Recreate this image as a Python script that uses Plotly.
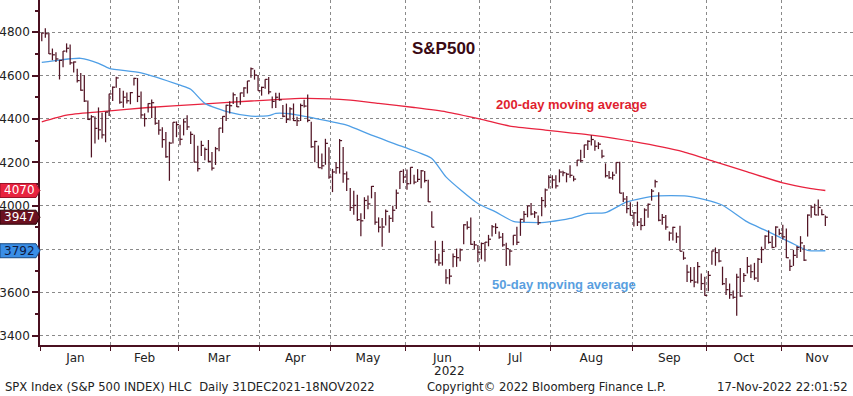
import plotly.graph_objects as go

# ---------------- data ----------------
dates = [
    # Jan
    "2022-01-03","2022-01-04","2022-01-05","2022-01-06","2022-01-07","2022-01-10","2022-01-11","2022-01-12","2022-01-13","2022-01-14",
    "2022-01-18","2022-01-19","2022-01-20","2022-01-21","2022-01-24","2022-01-25","2022-01-26","2022-01-27","2022-01-28","2022-01-31",
    # Feb
    "2022-02-01","2022-02-02","2022-02-03","2022-02-04","2022-02-07","2022-02-08","2022-02-09","2022-02-10","2022-02-11","2022-02-14",
    "2022-02-15","2022-02-16","2022-02-17","2022-02-18","2022-02-22","2022-02-23","2022-02-24","2022-02-25","2022-02-28",
    # Mar
    "2022-03-01","2022-03-02","2022-03-03","2022-03-04","2022-03-07","2022-03-08","2022-03-09","2022-03-10","2022-03-11","2022-03-14",
    "2022-03-15","2022-03-16","2022-03-17","2022-03-18","2022-03-21","2022-03-22","2022-03-23","2022-03-24","2022-03-25","2022-03-28",
    "2022-03-29","2022-03-30","2022-03-31",
    # Apr
    "2022-04-01","2022-04-04","2022-04-05","2022-04-06","2022-04-07","2022-04-08","2022-04-11","2022-04-12","2022-04-13","2022-04-14",
    "2022-04-18","2022-04-19","2022-04-20","2022-04-21","2022-04-22","2022-04-25","2022-04-26","2022-04-27","2022-04-28","2022-04-29",
    # May
    "2022-05-02","2022-05-03","2022-05-04","2022-05-05","2022-05-06","2022-05-09","2022-05-10","2022-05-11","2022-05-12","2022-05-13",
    "2022-05-16","2022-05-17","2022-05-18","2022-05-19","2022-05-20","2022-05-23","2022-05-24","2022-05-25","2022-05-26","2022-05-27",
    "2022-05-31",
    # Jun
    "2022-06-01","2022-06-02","2022-06-03","2022-06-06","2022-06-07","2022-06-08","2022-06-09","2022-06-10","2022-06-13","2022-06-14",
    "2022-06-15","2022-06-16","2022-06-17","2022-06-21","2022-06-22","2022-06-23","2022-06-24","2022-06-27","2022-06-28","2022-06-29",
    "2022-06-30",
    # Jul
    "2022-07-01","2022-07-05","2022-07-06","2022-07-07","2022-07-08","2022-07-11","2022-07-12","2022-07-13","2022-07-14","2022-07-15",
    "2022-07-18","2022-07-19","2022-07-20","2022-07-21","2022-07-22","2022-07-25","2022-07-26","2022-07-27","2022-07-28","2022-07-29",
    # Aug
    "2022-08-01","2022-08-02","2022-08-03","2022-08-04","2022-08-05","2022-08-08","2022-08-09","2022-08-10","2022-08-11","2022-08-12",
    "2022-08-15","2022-08-16","2022-08-17","2022-08-18","2022-08-19","2022-08-22","2022-08-23","2022-08-24","2022-08-25","2022-08-26",
    "2022-08-29","2022-08-30","2022-08-31",
    # Sep
    "2022-09-01","2022-09-02","2022-09-06","2022-09-07","2022-09-08","2022-09-09","2022-09-12","2022-09-13","2022-09-14","2022-09-15",
    "2022-09-16","2022-09-19","2022-09-20","2022-09-21","2022-09-22","2022-09-23","2022-09-26","2022-09-27","2022-09-28","2022-09-29",
    "2022-09-30",
    # Oct
    "2022-10-03","2022-10-04","2022-10-05","2022-10-06","2022-10-07","2022-10-10","2022-10-11","2022-10-12","2022-10-13","2022-10-14",
    "2022-10-17","2022-10-18","2022-10-19","2022-10-20","2022-10-21","2022-10-24","2022-10-25","2022-10-26","2022-10-27","2022-10-28",
    "2022-10-31",
    # Nov
    "2022-11-01","2022-11-02","2022-11-03","2022-11-04","2022-11-07","2022-11-08","2022-11-09","2022-11-10","2022-11-11","2022-11-14",
    "2022-11-15","2022-11-16","2022-11-17",
]

highs = [
    4796.6, 4818.6, 4797.7, 4725.0, 4708.0, 4673.0, 4714.1, 4748.8, 4744.1, 4665.1, 4632.2, 4611.6, 4602.1, 4485.3, 4417.4, 4411.0, 4453.2, 4428.7, 4432.7, 4516.9,
    4550.0, 4595.3, 4542.9, 4529.9, 4521.9, 4524.5, 4590.0, 4588.9, 4527.3, 4426.2, 4472.8, 4489.6, 4456.0, 4394.8, 4362.1, 4339.5, 4294.7, 4385.3, 4388.8,
    4373.5, 4401.5, 4416.8, 4342.1, 4327.0, 4276.9, 4299.4, 4268.3, 4303.0, 4247.6, 4271.1, 4358.0, 4412.5, 4465.4, 4481.8, 4522.0, 4501.1, 4520.6, 4546.0, 4575.7, 4637.3, 4627.0, 4603.1,
    4549.0, 4583.5, 4593.5, 4503.9, 4521.2, 4521.2, 4464.4, 4471.0, 4453.9, 4471.5, 4410.3, 4471.0, 4488.3, 4512.9, 4386.9, 4299.0, 4278.1, 4240.7, 4308.5, 4269.7,
    4169.8, 4200.1, 4307.7, 4270.4, 4157.7, 4081.4, 4068.8, 4050.0, 3964.8, 4038.9, 4047.0, 4090.7, 4062.9, 3945.9, 3943.1, 3981.9, 3955.7, 3999.3, 4075.1, 4158.5, 4168.3,
    4166.5, 4177.5, 4142.7, 4168.8, 4164.9, 4160.1, 4119.1, 3974.4, 3838.2, 3778.2, 3837.6, 3706.0, 3707.7, 3779.7, 3801.8, 3802.6, 3913.7, 3927.7, 3945.9, 3836.5, 3818.0,
    3829.8, 3832.2, 3865.2, 3910.6, 3918.5, 3880.9, 3873.4, 3829.4, 3796.4, 3863.6, 3902.4, 3939.8, 3975.3, 3999.3, 4012.4, 3975.3, 3954.0, 4039.6, 4078.9, 4140.2,
    4140.5, 4140.5, 4167.7, 4161.3, 4151.6, 4186.6, 4138.0, 4211.0, 4257.9, 4280.5, 4301.8, 4325.3, 4302.2, 4292.9, 4258.0, 4195.1, 4159.8, 4156.6, 4200.5, 4203.0, 4062.0, 4044.0, 4015.4,
    3970.2, 4018.4, 3942.6, 3987.9, 4010.5, 4076.8, 4119.3, 4062.0, 3961.9, 3957.0, 3880.5, 3902.5, 3876.0, 3907.1, 3788.0, 3727.0, 3716.4, 3717.5, 3740.0, 3687.0, 3671.4,
    3698.4, 3791.9, 3806.9, 3797.9, 3718.5, 3666.0, 3640.7, 3608.3, 3685.4, 3712.0, 3689.7, 3762.8, 3728.6, 3736.0, 3757.9, 3810.7, 3862.9, 3886.2, 3859.9, 3905.4, 3893.7,
    3911.8, 3894.4, 3751.0, 3796.3, 3813.9, 3859.4, 3818.4, 3959.6, 4001.5, 4008.4, 4028.8, 3983.4, 3954.3,
]

lows = [
    4758.2, 4774.3, 4699.4, 4671.3, 4662.7, 4582.2, 4638.3, 4706.7, 4650.3, 4614.8, 4568.7, 4530.2, 4478.0, 4395.4, 4222.6, 4287.1, 4304.8, 4309.5, 4292.5, 4414.0,
    4483.5, 4544.3, 4470.4, 4451.5, 4471.5, 4467.9, 4554.9, 4477.9, 4401.4, 4364.8, 4429.4, 4404.1, 4373.7, 4327.2, 4267.1, 4221.5, 4114.7, 4287.0, 4315.9,
    4279.0, 4324.2, 4348.6, 4284.9, 4199.2, 4157.9, 4229.0, 4209.0, 4200.4, 4161.7, 4187.9, 4251.6, 4335.7, 4390.6, 4425.6, 4468.6, 4455.8, 4465.4, 4501.1, 4517.7, 4589.8, 4581.5, 4530.4,
    4507.6, 4539.2, 4514.2, 4450.0, 4450.3, 4483.7, 4408.4, 4381.3, 4392.7, 4390.6, 4367.6, 4390.6, 4452.6, 4384.5, 4267.6, 4200.8, 4175.0, 4167.5, 4188.6, 4124.3,
    4062.5, 4147.1, 4148.0, 4106.2, 4067.7, 3975.5, 3958.1, 3928.8, 3858.9, 3937.9, 3983.0, 4033.9, 3911.9, 3876.7, 3810.3, 3909.0, 3875.1, 3925.0, 3984.6, 4077.4, 4104.1,
    4073.9, 4099.0, 4098.7, 4109.2, 4080.2, 4107.2, 4017.2, 3900.2, 3734.3, 3722.3, 3723.3, 3639.8, 3636.9, 3715.3, 3717.7, 3743.5, 3821.8, 3889.7, 3820.1, 3799.0, 3738.7,
    3752.1, 3742.1, 3812.3, 3858.2, 3869.6, 3847.2, 3810.0, 3721.6, 3723.3, 3817.7, 3818.6, 3860.7, 3924.5, 3946.3, 3955.8, 3943.4, 3911.0, 3951.4, 3992.0, 4079.2,
    4079.8, 4079.1, 4107.3, 4135.4, 4107.6, 4128.9, 4112.1, 4181.3, 4201.4, 4219.8, 4256.9, 4277.8, 4253.1, 4261.0, 4218.7, 4129.9, 4124.3, 4119.7, 4147.6, 4057.7, 4017.4, 3965.2, 3954.5,
    3903.7, 3906.2, 3886.8, 3906.0, 3944.4, 4022.9, 4083.6, 3928.3, 3912.2, 3888.6, 3838.6, 3838.7, 3828.0, 3789.8, 3750.0, 3647.5, 3644.7, 3623.3, 3640.6, 3610.4, 3584.1,
    3604.9, 3727.4, 3722.7, 3739.2, 3633.5, 3588.1, 3570.1, 3570.1, 3491.6, 3579.1, 3647.4, 3686.5, 3666.5, 3656.4, 3647.4, 3735.2, 3799.4, 3824.9, 3803.8, 3808.3, 3863.7,
    3843.8, 3758.7, 3698.2, 3722.0, 3759.0, 3786.3, 3744.2, 3857.3, 3944.1, 3956.4, 3953.2, 3955.2, 3906.5,
]

closes = [
    4796.6, 4793.5, 4700.6, 4696.1, 4677.0, 4670.3, 4713.1, 4726.4, 4659.0, 4662.9, 4577.1, 4532.8, 4482.7, 4397.9, 4410.1, 4356.5, 4349.9, 4326.5, 4431.9, 4515.6,
    4546.5, 4589.4, 4477.4, 4500.5, 4483.9, 4521.5, 4587.2, 4504.1, 4418.6, 4401.7, 4471.1, 4475.0, 4380.3, 4348.9, 4304.8, 4225.5, 4288.7, 4384.7, 4373.9,
    4306.3, 4386.5, 4363.5, 4328.9, 4201.1, 4170.7, 4277.9, 4259.5, 4204.3, 4173.1, 4262.5, 4357.9, 4411.7, 4463.1, 4461.2, 4511.6, 4456.2, 4520.2, 4543.1, 4575.5, 4631.6, 4602.5, 4530.4,
    4545.9, 4582.6, 4525.1, 4481.2, 4500.2, 4488.3, 4412.5, 4397.5, 4446.6, 4392.6, 4391.7, 4462.2, 4459.5, 4393.7, 4271.8, 4296.1, 4175.2, 4184.0, 4287.5, 4131.9,
    4155.4, 4175.5, 4300.2, 4146.9, 4123.3, 3991.2, 4001.1, 3935.2, 3930.1, 4023.9, 4008.0, 4088.9, 3923.7, 3900.8, 3901.4, 3973.8, 3941.5, 3978.7, 4057.8, 4158.2, 4132.2,
    4101.2, 4176.8, 4108.5, 4121.4, 4160.7, 4115.8, 4017.8, 3900.9, 3749.6, 3735.5, 3790.0, 3666.8, 3674.8, 3764.8, 3759.9, 3795.7, 3911.7, 3900.1, 3821.6, 3818.8, 3785.4,
    3825.3, 3831.4, 3845.1, 3902.6, 3899.4, 3854.4, 3818.8, 3801.8, 3790.4, 3863.2, 3830.9, 3936.7, 3959.9, 3999.0, 3961.6, 3966.8, 3921.1, 4023.6, 4072.4, 4130.3,
    4118.6, 4091.2, 4155.2, 4151.9, 4145.2, 4140.1, 4122.5, 4210.2, 4207.3, 4280.2, 4297.1, 4305.2, 4274.0, 4283.7, 4228.5, 4138.0, 4128.7, 4140.8, 4199.1, 4057.7, 4030.6, 3986.2, 3955.0,
    3966.9, 3924.3, 3908.2, 3979.9, 4006.2, 4067.4, 4110.4, 3932.7, 3946.0, 3901.4, 3873.3, 3899.9, 3855.9, 3789.9, 3758.0, 3693.2, 3655.0, 3647.3, 3719.0, 3640.5, 3585.6,
    3678.4, 3790.9, 3783.3, 3744.5, 3639.7, 3612.4, 3588.8, 3577.0, 3669.9, 3583.1, 3678.0, 3720.0, 3695.2, 3665.8, 3752.8, 3797.3, 3859.1, 3830.6, 3807.3, 3901.1, 3872.0,
    3856.1, 3759.7, 3719.9, 3770.6, 3806.8, 3828.1, 3748.6, 3956.4, 3992.9, 3957.3, 3991.7, 3958.8, 3946.6,
]

# moving averages at sample dates
ma200_dates = ["2022-01-03","2022-01-12","2022-01-26","2022-02-15","2022-03-08","2022-03-29","2022-04-19","2022-04-29",
               "2022-05-09","2022-05-19","2022-06-03","2022-06-16","2022-07-01","2022-07-14","2022-07-28","2022-08-08",
               "2022-08-16","2022-09-01","2022-09-22","2022-10-05","2022-10-18","2022-11-01","2022-11-11","2022-11-17"]
ma200_values = [4387, 4418, 4433, 4453, 4467, 4483, 4495, 4493,
                4487, 4472, 4453, 4433, 4398, 4367, 4349, 4336,
                4325, 4295, 4248, 4202, 4156, 4105, 4079, 4070]

ma50_dates = ["2022-01-03","2022-01-10","2022-01-19","2022-01-26","2022-01-31","2022-02-11","2022-03-01","2022-03-04",
              "2022-03-10","2022-03-21","2022-03-29","2022-04-05","2022-04-07","2022-04-13","2022-04-19","2022-04-25",
              "2022-05-06","2022-05-17","2022-05-31","2022-06-10","2022-06-16","2022-06-30","2022-07-08","2022-07-15",
              "2022-07-27","2022-07-29","2022-08-08","2022-08-15","2022-08-22","2022-08-30","2022-09-12","2022-09-23",
              "2022-09-30","2022-10-07","2022-10-18","2022-10-25","2022-11-03","2022-11-10","2022-11-17"]
ma50_values = [4661, 4672, 4680, 4657, 4634, 4613, 4556, 4537,
               4472, 4430, 4413, 4415, 4426, 4424, 4415, 4403,
               4372, 4325, 4271, 4218, 4133, 4010, 3971, 3928,
               3922, 3925, 3941, 3964, 3968, 4017, 4044, 4044,
               4028, 4002, 3925, 3887, 3832, 3794, 3792]

month_names = ["Jan", "Feb", "Mar", "Apr", "May", "Jun", "Jul", "Aug", "Sep", "Oct", "Nov"]
year_label = "2022"
y_ticks = [3400, 3600, 3800, 4000, 4200, 4400, 4600, 4800]
y_ticktext = ["3400", "3600", "", "4000", "4200", "4400", "4600", "4800"]  # 3800 hidden behind the 50-day tag

# ---------------- styling ----------------
BAR = "#521525"
RED = "#e8233f"
BLUE = "#4f9fe6"
AXIS = "#4a1020"
GRID = "#8a8a8a"
TXT = "#222222"
FONT = "DejaVu Sans"

X_END = 229.3
Y_RANGE = [3357, 4949]

# trading-day positions
pos = {d: i + 0.5 for i, d in enumerate(dates)}
xs = [pos[d] for d in dates]

bx, by, cx, cy = [], [], [], []
for x, h, l, c in zip(xs, highs, lows, closes):
    bx += [x, x, None]
    by += [l, h, None]
    cx += [x, x + 0.7, None]
    cy += [c, c, None]

# month boundaries and centres
bounds = [i for i in range(len(dates)) if i == 0 or dates[i][5:7] != dates[i - 1][5:7]]
ends = bounds[1:] + [X_END]
centres = [(a + b) / 2 for a, b in zip(bounds, ends)]

fig = go.Figure()
fig.add_trace(go.Scatter(x=[pos[d] for d in ma200_dates], y=ma200_values, mode="lines",
                         line=dict(color=RED, width=1.3, shape="spline", smoothing=0.6), hoverinfo="skip"))
fig.add_trace(go.Scatter(x=[pos[d] for d in ma50_dates], y=ma50_values, mode="lines",
                         line=dict(color=BLUE, width=1.3, shape="spline", smoothing=0.6), hoverinfo="skip"))
fig.add_trace(go.Scatter(x=bx, y=by, mode="lines", line=dict(color=BAR, width=1.25), hoverinfo="skip"))
fig.add_trace(go.Scatter(x=cx, y=cy, mode="lines", line=dict(color=BAR, width=1.25), hoverinfo="skip"))

fig.update_layout(
    width=853, height=396,
    margin=dict(l=40, r=0, t=0, b=51),
    paper_bgcolor="white", plot_bgcolor="white",
    showlegend=False,
    font=dict(family=FONT, size=12, color=TXT),
    xaxis=dict(
        range=[0, X_END], tickmode="array", tickvals=centres, ticktext=month_names,
        ticks="outside", ticklen=1, tickcolor="rgba(0,0,0,0)", showgrid=False, zeroline=False,
        showline=True, linecolor=AXIS, linewidth=1.5, automargin=False,
        tickfont=dict(family=FONT, size=12, color=TXT),
        minor=dict(tickmode="array", tickvals=bounds, ticks="outside", ticklen=4, tickcolor=AXIS,
                   tickwidth=1, showgrid=True, gridcolor=GRID, griddash="dot", gridwidth=1),
    ),
    yaxis=dict(
        range=Y_RANGE, tickmode="array", tickvals=y_ticks, ticktext=y_ticktext,
        ticks="outside", ticklen=6, tickwidth=2, tickcolor=AXIS,
        showgrid=True, gridcolor=GRID, griddash="dot", gridwidth=1, zeroline=False,
        showline=True, linecolor=AXIS, linewidth=1.5, automargin=False,
        tickfont=dict(family=FONT, size=12, color=TXT),
        minor=dict(dtick=100, tick0=3300, ticks="outside", ticklen=3, tickcolor=AXIS, showgrid=False),
    ),
)

# year under the June label, left-aligned with it
fig.add_annotation(x=centres[5], y=-(371 - 345) / 345, yref="paper", xshift=-10, text=year_label,
                   showarrow=False, xanchor="left", yanchor="middle",
                   font=dict(family=FONT, size=12, color=TXT))

# last-value tags on the left axis
tags = [
    (ma200_values[-1], RED, "#9a1028", "white"),
    (closes[-1], "#6a1020", "#2a0508", "white"),
    (ma50_values[-1], "#3a8ee6", "#1a4a80", "#101a40"),
]
for val, col, edge, tcol in tags:
    fig.add_shape(type="path", xref="paper", yref="y", xsizemode="pixel", ysizemode="pixel",
                  xanchor=0, yanchor=val,
                  path="M -40,-7 L -4,-7 L 0,0 L -4,7 L -40,7 Z",
                  fillcolor=col, line=dict(width=1, color=edge), layer="above")
    fig.add_annotation(xref="paper", yref="y", x=0, y=val, xshift=-21, text=f"{val:.0f}",
                       showarrow=False, font=dict(family=FONT, size=12, color=tcol),
                       xanchor="center", yanchor="middle")

fig.add_annotation(x=113.7, y=4723, text="<b>S&P500</b>", showarrow=False,
                   font=dict(family="Liberation Sans", size=17, color="#3a0a14"))
fig.add_annotation(x=149.8, y=4469, text="<b>200-day moving average</b>", showarrow=False,
                   font=dict(family="Liberation Sans", size=13, color="#e01f30"))
fig.add_annotation(x=147.8, y=3637, text="<b>50-day moving average</b>", showarrow=False,
                   font=dict(family="Liberation Sans", size=13, color="#5a9fe0"))

foot_y = -(387 - 345) / 345
fig.add_annotation(xref="paper", yref="paper", x=-37 / 813, y=foot_y, xanchor="left", yanchor="middle",
                   text="SPX Index (S&P 500 INDEX) HLC  Daily 31DEC2021-18NOV2022", showarrow=False,
                   font=dict(family=FONT, size=11.6, color=TXT))
fig.add_annotation(xref="paper", yref="paper", x=385 / 813, y=foot_y, xanchor="left", yanchor="middle",
                   text="Copyright© 2022 Bloomberg Finance L.P.", showarrow=False,
                   font=dict(family=FONT, size=11.6, color=TXT))
fig.add_annotation(xref="paper", yref="paper", x=810 / 813, y=foot_y, xanchor="right", yanchor="middle",
                   text="17-Nov-2022 22:01:52", showarrow=False,
                   font=dict(family=FONT, size=11.6, color=TXT))

fig.write_html("out.html", config={"displayModeBar": False},
               post_script="document.body.style.margin='0';document.body.style.overflow='hidden';")
